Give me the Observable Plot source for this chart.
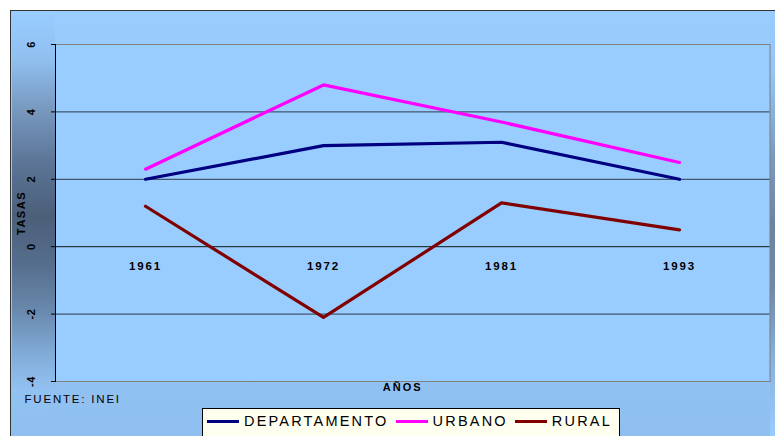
<!DOCTYPE html>
<html><head><meta charset="utf-8">
<script src="https://cdn.jsdelivr.net/npm/d3@7"></script>
<script src="https://cdn.jsdelivr.net/npm/@observablehq/plot@0.6"></script>
<style>
body{margin:0;background:#fff;width:775px;height:436px;overflow:hidden;position:relative;font-family:"Liberation Sans",Arial,sans-serif;}
#bg{position:absolute;left:10px;top:10px;width:766px;height:427px;box-sizing:border-box;border-top:1.5px solid #333;border-left:1.5px solid #333;background:linear-gradient(to bottom,#9ACCFD 0%,#94C6F8 60%,#8EBFEF 100%);}
#lstrip{position:absolute;left:11.5px;top:11.5px;width:43.5px;height:425px;background:linear-gradient(to bottom,#99CCFF 0%,#90C0F0 11%,#7898BE 23%,#5C7698 35%,#4B5F79 48%,#556D8C 59%,#6888AC 70%,#80AAD6 80%,#92C2F2 89%,#8EBFEF 100%);}
#rstrip{position:absolute;left:770px;top:11.5px;width:5px;height:425px;background:linear-gradient(to bottom,#99CCFF 0%,#94C4F4 15%,#7C9CC0 33%,#6A84A4 50%,#6E8AAA 65%,#88B2DC 82%,#99CCFF 100%);}
#chart{position:absolute;left:0;top:0;}
#legend{position:absolute;left:202px;top:408px;width:418px;height:40px;box-sizing:border-box;border:1px solid #000;background:#FFFFF0;display:flex;align-items:center;height:40px;padding-left:4px;padding-bottom:14px;}
.item{display:flex;align-items:center;margin-right:7px;}
.swatch{width:32px;height:3px;margin-right:5px;}
.lbl{font-size:14.5px;letter-spacing:2.2px;color:#000;}
</style></head>
<body>
<div id="bg"></div><div id="lstrip"></div><div id="rstrip"></div>
<div id="chart"></div>
<div id="legend"></div>
<script>
const years = ["1961", "1972", "1981", "1993"];
const departamento = [2.0, 3.0, 3.1, 2.0];
const urbano = [2.3, 4.8, 3.7, 2.5];
const rural = [1.2, -2.1, 1.3, 0.5];
const seriesNames = ["DEPARTAMENTO", "URBANO", "RURAL"];
const seriesColors = ["#000080", "#FF00FF", "#800000"];
const yTicks = [-4, -2, 0, 2, 4, 6];
const yTickLabels = ["-4", "-2", "0", "2", "4", "6"];
const yTitle = "TASAS";
const xTitle = "AÑOS";
const source = "FUENTE: INEI";

const seriesValues = [departamento, urbano, rural];
const data = [];
seriesNames.forEach((s, i) => years.forEach((y, j) => data.push({series: s, year: y, value: seriesValues[i][j]})));

const chart = Plot.plot({
  width: 775, height: 436,
  marginLeft: 55, marginRight: 5.5, marginTop: 44, marginBottom: 55,
  style: {background: "transparent", overflow: "visible", fontFamily: "'Liberation Sans', Arial, sans-serif"},
  x: {type: "point", domain: years, padding: 0.5, axis: null},
  y: {domain: [-4, 6], axis: null},
  color: {domain: seriesNames, range: seriesColors},
  marks: [
    Plot.frame({fill: "#99CCFF", stroke: "#808080"}),
    Plot.ruleY([-2, 2, 4], {stroke: "#2E3A48", strokeWidth: 1}),
    Plot.ruleY([0], {stroke: "#111", strokeWidth: 1}),
    Plot.axisY({ticks: yTicks, tickSize: 4, tickFormat: () => "", label: null, stroke: "#000"}),
    Plot.frame({anchor: "left", stroke: "#000"}),
    Plot.line(data, {x: "year", y: "value", z: "series", stroke: "series", strokeWidth: 3.2}),
    Plot.text(yTicks, {y: d => d, text: (d, i) => yTickLabels[i], frameAnchor: "left", textAnchor: "middle", lineAnchor: "middle", dx: -24, rotate: -90, fontSize: 11, fontWeight: "bold", fill: "#000"}),
    Plot.text([yTitle], {frameAnchor: "left", textAnchor: "middle", lineAnchor: "middle", dx: -34, rotate: -90, fontSize: 11, fontWeight: "bold", fill: "#000"}),
    Plot.text(years, {x: d => d, y: 0, dy: 20, lineAnchor: "middle", fontSize: 11.5, fontWeight: "bold", fill: "#000"}),
    Plot.text([xTitle], {frameAnchor: "bottom", textAnchor: "middle", lineAnchor: "middle", dx: -10, dy: 6, fontSize: 11, fontWeight: "bold", fill: "#000"}),
    Plot.text([source], {frameAnchor: "bottom-left", textAnchor: "start", lineAnchor: "middle", dx: -31, dy: 18, fontSize: 11.5, fill: "#000"})
  ]
});
document.getElementById("chart").appendChild(chart);

// letter spacing, as in the original
const spacing = new Map([
  ...years.map(y => [y, "1.8px"]),
  ...yTickLabels.map(y => [y, "0.5px"]),
  [yTitle, "1.5px"], [xTitle, "2px"], [source, "1.8px"]
]);
d3.select(chart).selectAll("text").each(function() {
  const t = this.textContent;
  if (spacing.has(t)) this.style.letterSpacing = spacing.get(t);
});

const legend = d3.select("#legend");
seriesNames.forEach((s, i) => {
  const it = legend.append("div").attr("class", "item");
  it.append("div").attr("class", "swatch").style("background", seriesColors[i]);
  it.append("span").attr("class", "lbl").text(s);
});
</script>
</body></html>
